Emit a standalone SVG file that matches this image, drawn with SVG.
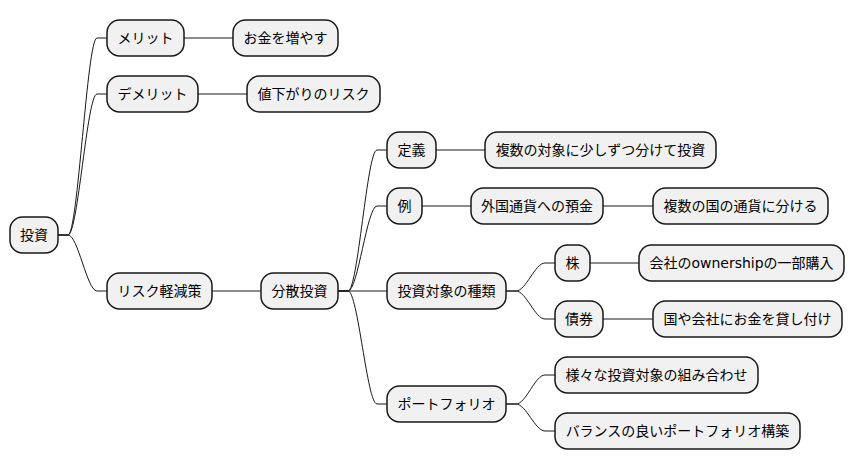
<svg xmlns="http://www.w3.org/2000/svg" width="855" height="471" viewBox="0 0 855 471">
<style>
.n rect{fill:#F1F1F1;stroke:#181818;stroke-width:1.5}
.n text{font-family:"DejaVu Sans","Noto Sans CJK JP",sans-serif;font-size:14px;fill:#000;text-anchor:middle}
.c path{fill:none;stroke:#181818;stroke-width:1}
</style>
<rect width="855" height="471" fill="#FFFFFF"/>
<g class="c" id="connectors">
<path d="M58,235 L68,235 C78,235 87,38 97,38 L107,38"/>
<path d="M58,235 L68,235 C78,235 87,94 97,94 L107,94"/>
<path d="M58,235 L68,235 C78,235 87,291 97,291 L107,291"/>
<path d="M184,38 L233,38"/>
<path d="M198,94 L247,94"/>
<path d="M212,291 L261,291"/>
<path d="M338,291 L348,291 C358,291 367,150 377,150 L387,150"/>
<path d="M338,291 L348,291 C358,291 367,206 377,206 L387,206"/>
<path d="M338,291 L387,291"/>
<path d="M338,291 L348,291 C358,291 367,404 377,404 L387,404"/>
<path d="M436,150 L485,150"/>
<path d="M422,206 L471,206"/>
<path d="M603,206 L653,206"/>
<path d="M506,291 L516,291 C526,291 535,263 545,263 L555,263"/>
<path d="M506,291 L516,291 C526,291 535,319 545,319 L555,319"/>
<path d="M590,263 L639,263"/>
<path d="M603,319 L653,319"/>
<path d="M506,404 L516,404 C526,404 535,375 545,375 L555,375"/>
<path d="M506,404 L516,404 C526,404 535,431 545,431 L555,431"/>
</g>
<g class="n" id="n-toushi"><rect x="10" y="217" width="48" height="36" rx="12.5"/><text x="34" y="240">投資</text></g>
<g class="n" id="n-merit"><rect x="107" y="20" width="77" height="36" rx="12.5"/><text x="145.5" y="43">メリット</text></g>
<g class="n" id="n-okane"><rect x="233" y="20" width="105" height="36" rx="12.5"/><text x="285.5" y="43">お金を増やす</text></g>
<g class="n" id="n-demerit"><rect x="107" y="76" width="91" height="36" rx="12.5"/><text x="152.5" y="99">デメリット</text></g>
<g class="n" id="n-nesagari"><rect x="247" y="76" width="133" height="36" rx="12.5"/><text x="313.5" y="99">値下がりのリスク</text></g>
<g class="n" id="n-risk"><rect x="107" y="273" width="105" height="36" rx="12.5"/><text x="159.5" y="296">リスク軽減策</text></g>
<g class="n" id="n-bunsan"><rect x="261" y="273" width="77" height="36" rx="12.5"/><text x="299.5" y="296">分散投資</text></g>
<g class="n" id="n-teigi"><rect x="387" y="132" width="49" height="36" rx="12.5"/><text x="411.5" y="155">定義</text></g>
<g class="n" id="n-teigi-d"><rect x="485" y="132" width="231" height="36" rx="12.5"/><text x="600.5" y="155">複数の対象に少しずつ分けて投資</text></g>
<g class="n" id="n-rei"><rect x="387" y="188" width="35" height="36" rx="12.5"/><text x="404.5" y="211">例</text></g>
<g class="n" id="n-gaika"><rect x="471" y="188" width="132" height="36" rx="12.5"/><text x="537" y="211">外国通貨への預金</text></g>
<g class="n" id="n-gaika-d"><rect x="653" y="188" width="175" height="36" rx="12.5"/><text x="740.5" y="211">複数の国の通貨に分ける</text></g>
<g class="n" id="n-shurui"><rect x="387" y="273" width="119" height="36" rx="12.5"/><text x="446.5" y="296">投資対象の種類</text></g>
<g class="n" id="n-kabu"><rect x="555" y="245" width="35" height="36" rx="12.5"/><text x="572.5" y="268">株</text></g>
<g class="n" id="n-kabu-d"><rect x="639" y="245" width="205" height="36" rx="12.5"/><text x="741.5" y="268">会社のownershipの一部購入</text></g>
<g class="n" id="n-saiken"><rect x="555" y="301" width="48" height="36" rx="12.5"/><text x="579" y="324">債券</text></g>
<g class="n" id="n-saiken-d"><rect x="653" y="301" width="189" height="36" rx="12.5"/><text x="747.5" y="324">国や会社にお金を貸し付け</text></g>
<g class="n" id="n-portfolio"><rect x="387" y="386" width="119" height="36" rx="12.5"/><text x="446.5" y="409">ポートフォリオ</text></g>
<g class="n" id="n-kumiawase"><rect x="555" y="357" width="203" height="36" rx="12.5"/><text x="656.5" y="380">様々な投資対象の組み合わせ</text></g>
<g class="n" id="n-balance"><rect x="555" y="413" width="245" height="36" rx="12.5"/><text x="677.5" y="436">バランスの良いポートフォリオ構築</text></g>
</svg>
